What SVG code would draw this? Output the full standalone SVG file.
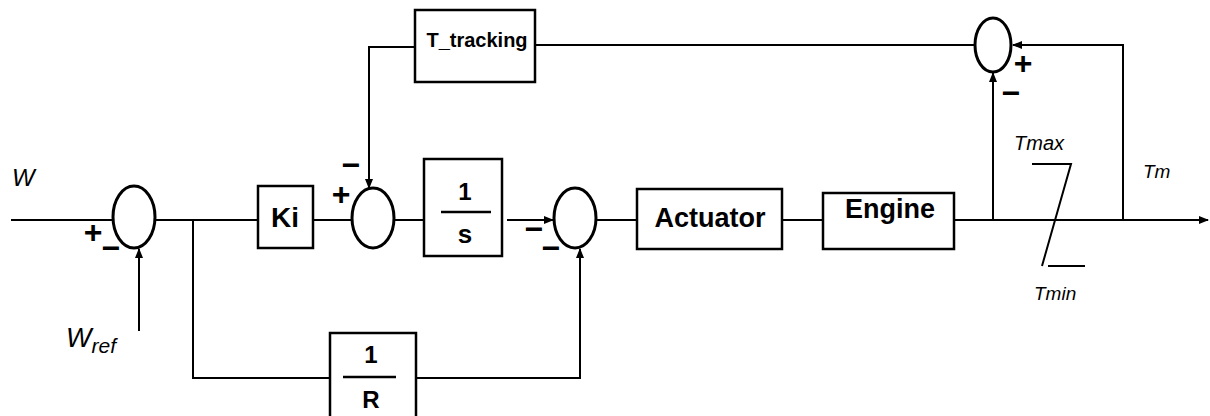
<svg xmlns="http://www.w3.org/2000/svg" width="1210" height="416" viewBox="0 0 1210 416">
<style>
.blk{fill:#fff;stroke:#000;stroke-width:2.5}
.sum{fill:#fff;stroke:#000;stroke-width:3}
.w{fill:none;stroke:#000;stroke-width:2}
.lb{font-family:"Liberation Sans",Arial,sans-serif;font-weight:bold;fill:#000;text-anchor:middle}
.it{font-family:"Liberation Sans",Arial,sans-serif;font-style:italic;fill:#000}
.sg{font-family:"Liberation Sans",Arial,sans-serif;font-size:32px;font-weight:bold;fill:#000;text-anchor:middle}
</style>
<defs>
<marker id="ah" markerWidth="10" markerHeight="8" refX="9" refY="4" orient="auto" markerUnits="userSpaceOnUse">
<path d="M0,0 L10,4 L0,8 Z" fill="#000"/>
</marker>
</defs>
<rect width="1210" height="416" fill="#fff"/>
<g id="connectors">
<line class="w" x1="11" y1="220" x2="112" y2="220"/>
<line class="w" x1="156" y1="220" x2="258" y2="220"/>
<line class="w" x1="313" y1="220" x2="352" y2="220"/>
<line class="w" x1="395" y1="220" x2="424" y2="220"/>
<line class="w" x1="507" y1="220" x2="553" y2="220" marker-end="url(#ah)"/>
<line class="w" x1="597" y1="220" x2="637" y2="220"/>
<line class="w" x1="782" y1="220" x2="823" y2="220"/>
<line class="w" x1="954" y1="220" x2="1208" y2="220" marker-end="url(#ah)"/>
<line class="w" x1="139" y1="331" x2="139" y2="249" marker-end="url(#ah)"/>
<polyline class="w" points="193,220 193,378 330,378"/>
<polyline class="w" points="416,378 580,378 580,249" marker-end="url(#ah)"/>
<polyline class="w" points="415,47 369,47 369,188" marker-end="url(#ah)"/>
<line class="w" x1="535" y1="45" x2="975" y2="45"/>
<polyline class="w" points="1123,220 1123,45 1013,45" marker-end="url(#ah)"/>
<line class="w" x1="993" y1="220" x2="993" y2="73" marker-end="url(#ah)"/>
</g>
<g id="sum1">
<ellipse class="sum" cx="134" cy="217" rx="21" ry="31"/>
<text class="sg" x="93" y="243">+</text>
<text class="sg" x="111" y="259">−</text>
</g>
<g id="ki">
<rect class="blk" x="258" y="186" width="55" height="62"/>
<text class="lb" x="285" y="227" font-size="28">Ki</text>
</g>
<g id="sum2">
<ellipse class="sum" cx="373" cy="218" rx="21" ry="30"/>
<text class="sg" x="341" y="205">+</text>
<text class="sg" x="351" y="176">−</text>
</g>
<g id="integrator">
<rect class="blk" x="424" y="159" width="78" height="97"/>
<text class="lb" x="465" y="200" font-size="24">1</text>
<line x1="441" y1="212" x2="491" y2="212" stroke="#000" stroke-width="2.5"/>
<text class="lb" x="465" y="243" font-size="26">s</text>
</g>
<g id="ttracking">
<rect class="blk" x="415" y="10" width="120" height="72"/>
<text class="lb" x="477" y="47" font-size="20">T_tracking</text>
</g>
<g id="sum3">
<ellipse class="sum" cx="575" cy="218" rx="21" ry="30"/>
<text class="sg" x="534" y="240">−</text>
<text class="sg" x="551" y="259">−</text>
</g>
<g id="actuator">
<rect class="blk" x="637" y="189" width="145" height="60"/>
<text class="lb" x="710" y="227" font-size="27">Actuator</text>
</g>
<g id="engine">
<rect class="blk" x="823" y="193" width="131" height="56"/>
<text class="lb" x="890" y="218" font-size="27">Engine</text>
</g>
<g id="oneOverR">
<rect class="blk" x="330" y="333" width="86" height="90"/>
<text class="lb" x="371" y="363" font-size="24">1</text>
<line x1="343" y1="377" x2="396" y2="377" stroke="#000" stroke-width="2.5"/>
<text class="lb" x="371" y="408" font-size="24">R</text>
</g>
<g id="sum4">
<ellipse class="sum" cx="993" cy="45" rx="18" ry="27"/>
<text class="sg" x="1023" y="74" font-size="27">+</text>
<text class="sg" x="1011" y="104" font-size="27">−</text>
</g>
<g id="saturation">
<polyline class="w" points="1032,164 1071,164 1042,266"/>
<line class="w" x1="1048" y1="266" x2="1085" y2="266"/>
<text class="it" x="1014" y="150" font-size="20">Tmax</text>
<text class="it" x="1034" y="300" font-size="19">Tmin</text>
</g>
<g id="labels">
<text class="it" x="12" y="186" font-size="24">W</text>
<text class="it" x="66" y="347" font-size="27">W<tspan font-size="21" dy="6">ref</tspan></text>
<text class="it" x="1143" y="178" font-size="19">Tm</text>
</g>
</svg>
